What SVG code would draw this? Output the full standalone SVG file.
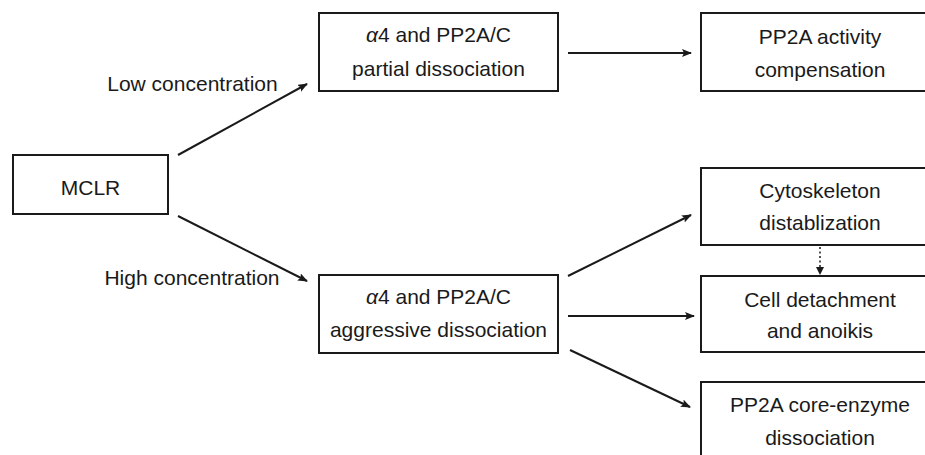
<svg xmlns="http://www.w3.org/2000/svg" width="925" height="455" viewBox="0 0 925 455">
<defs>
<marker id="ah" markerUnits="userSpaceOnUse" markerWidth="12" markerHeight="10" refX="9" refY="4" orient="auto">
<path d="M0,0 L10,4 L0,8 L2,4 Z" fill="#1a1a1a"/>
</marker>
<marker id="ahs" markerUnits="userSpaceOnUse" markerWidth="10" markerHeight="10" refX="7" refY="4" orient="auto">
<path d="M0,0 L8,4 L0,8 Z" fill="#1a1a1a"/>
</marker>
</defs>
<style>
.box{fill:#fff;stroke:#1a1a1a;stroke-width:2}
.t{font-family:"Liberation Sans",Arial,sans-serif;font-size:21px;fill:#1a1a1a;text-anchor:middle}
.lbl{font-family:"Liberation Sans",Arial,sans-serif;font-size:21px;fill:#1a1a1a;text-anchor:middle}
.c{fill:none;stroke:#1a1a1a;stroke-width:2}
.d{fill:none;stroke:#1a1a1a;stroke-width:1.5;stroke-dasharray:2,2.5}
</style>
<rect width="925" height="455" fill="#fff"/>
<g id="connectors">
<line class="c" x1="178" y1="155" x2="307" y2="84" marker-end="url(#ah)"/>
<line class="c" x1="178" y1="216" x2="307" y2="281" marker-end="url(#ah)"/>
<line class="c" x1="568" y1="53" x2="691" y2="53" marker-end="url(#ah)"/>
<line class="c" x1="568" y1="276" x2="691" y2="215" marker-end="url(#ah)"/>
<line class="c" x1="568" y1="316" x2="694" y2="316" marker-end="url(#ah)"/>
<line class="c" x1="570" y1="350" x2="690" y2="407" marker-end="url(#ah)"/>
<line class="d" x1="820" y1="247" x2="820" y2="274" marker-end="url(#ahs)"/>
<text class="lbl" x="192.5" y="91">Low concentration</text>
<text class="lbl" x="192" y="285">High concentration</text>
</g>
<g id="mclr">
<rect class="box" x="13" y="155" width="155" height="59"/>
<text class="t" x="90.5" y="195">MCLR</text>
</g>
<g id="partial">
<rect class="box" x="319" y="13" width="239" height="78"/>
<text class="t" x="438.5" y="42"><tspan font-style="italic">α</tspan>4 and PP2A/C</text>
<text class="t" x="438.5" y="76">partial dissociation</text>
</g>
<g id="compensation">
<rect class="box" x="701" y="13" width="240" height="78"/>
<text class="t" x="820" y="44">PP2A activity</text>
<text class="t" x="820" y="77">compensation</text>
</g>
<g id="aggressive">
<rect class="box" x="319" y="275" width="239" height="78"/>
<text class="t" x="438.5" y="304"><tspan font-style="italic">α</tspan>4 and PP2A/C</text>
<text class="t" x="438.5" y="337">aggressive dissociation</text>
</g>
<g id="cytoskeleton">
<rect class="box" x="701" y="168" width="240" height="77"/>
<text class="t" x="820" y="198">Cytoskeleton</text>
<text class="t" x="820" y="230">distablization</text>
</g>
<g id="detachment">
<rect class="box" x="701" y="276" width="240" height="76"/>
<text class="t" x="820" y="307">Cell detachment</text>
<text class="t" x="820" y="338">and anoikis</text>
</g>
<g id="coreenzyme">
<rect class="box" x="701" y="382" width="240" height="90"/>
<text class="t" x="820" y="412">PP2A core-enzyme</text>
<text class="t" x="820" y="445">dissociation</text>
</g>
</svg>
